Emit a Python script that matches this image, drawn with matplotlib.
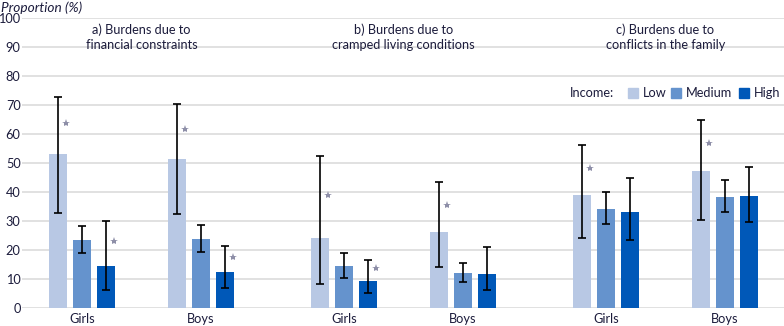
import matplotlib
matplotlib.use("Agg")
import matplotlib.pyplot as plt
from matplotlib.patches import Rectangle
import numpy as np

plt.rcParams['font.family'] = ['Lato', 'DejaVu Sans']

panels = ["a) Burdens due to\nfinancial constraints",
          "b) Burdens due to\ncramped living conditions",
          "c) Burdens due to\nconflicts in the family"]
genders = ["Girls", "Boys"]
incomes = ["Low", "Medium", "High"]
colors = ["#b8c8e4", "#6593cd", "#0058b8"]

# values[panel][gender] = [Low, Medium, High]
values = [
    [[53.2, 23.4, 14.4], [51.5, 23.8, 12.4]],
    [[24.1, 14.4, 9.2], [26.2, 12.0, 11.7]],
    [[39.0, 34.2, 33.1], [47.3, 38.3, 38.7]],
]
err_low = [
    [[32.7, 18.8, 6.0], [32.3, 19.2, 6.7]],
    [[8.1, 10.2, 5.0], [14.0, 8.8, 6.0]],
    [[24.0, 28.9, 23.3], [30.2, 33.0, 29.5]],
]
err_high = [
    [[72.8, 28.2, 30.1], [70.4, 28.5, 21.2]],
    [[52.4, 19.0, 16.4], [43.4, 15.6, 20.9]],
    [[56.2, 39.9, 44.8], [64.8, 44.2, 48.6]],
]
signif = [
    [[1, 0, 1], [1, 0, 1]],
    [[1, 0, 1], [1, 0, 0]],
    [[1, 0, 0], [1, 0, 0]],
]
yticks = [0, 10, 20, 30, 40, 50, 60, 70, 80, 90, 100]

W, H = 784, 326
fig = plt.figure(figsize=(W / 100, H / 100), dpi=100)
ax_left, ax_right = 22, 784
ax_top, ax_bot = 18.3, 307.7
ax = fig.add_axes([ax_left / W, (H - ax_bot) / H, (ax_right - ax_left) / W, (ax_bot - ax_top) / H])
ax.set_xlim(ax_left, ax_right)
ax.set_ylim(0, 100)

text_col = "#1c1c3c"
for t in yticks:
    ax.axhline(t, color="#d9d9d9", lw=1.1, zorder=0)

panel_step = 262
gender_step = 119
first_center = 82
bar_step = 24
bar_w = 18.5

xt, xl = [], []
for p in range(3):
    for g in range(2):
        c = first_center + p * panel_step + g * gender_step
        xt.append(c)
        xl.append(genders[g])
        for i in range(3):
            x = c + (i - 1) * bar_step
            v = values[p][g][i]
            ax.bar(x, v, width=bar_w, color=colors[i], zorder=2)
            ax.errorbar(x, v, yerr=[[v - err_low[p][g][i]], [err_high[p][g][i] - v]],
                        fmt="none", ecolor="black", elinewidth=1.2, capsize=3,
                        capthick=1.2, zorder=3)
            if signif[p][g][i]:
                ymid = (v + err_high[p][g][i]) / 2 + 0.8
                ax.plot([x + 7.5], [ymid], marker="*", markersize=6,
                        color="#8e8fa8", markeredgewidth=0, zorder=4)
    # panel title
    pc = first_center + p * panel_step + gender_step / 2
    ax.text(pc, 93.6, panels[p], ha="center", va="center", fontsize=9.2,
            color=text_col, linespacing=1.3)

ax.set_xticks(xt)
ax.set_xticklabels(xl, fontsize=9.2, color=text_col)
ax.set_yticks(yticks)
ax.set_yticklabels([str(t) for t in yticks], fontsize=9.2, color=text_col)
ax.tick_params(length=0, pad=4)
ax.tick_params(axis="y", pad=1)
for s in ax.spines.values():
    s.set_visible(False)

fig.text(1 / W, 1 - 8 / H, "Proportion (%)", fontsize=9.8, style="italic",
         color=text_col, ha="left", va="center")

# legend
ly = 1 - 93 / H
fig.text(570 / W, ly, "Income:", fontsize=9.2, color=text_col, ha="left", va="center")
sq = 10
for i, (lab, xs) in enumerate(zip(incomes, [628, 671, 739])):
    fig.patches.append(Rectangle((xs / W, ly - sq / 2 / H), sq / W, sq / H,
                                 transform=fig.transFigure, color=colors[i]))
    fig.text((xs + sq + 5) / W, ly, lab, fontsize=9.2, color=text_col, ha="left", va="center")

fig.savefig("out.png", dpi=100)
